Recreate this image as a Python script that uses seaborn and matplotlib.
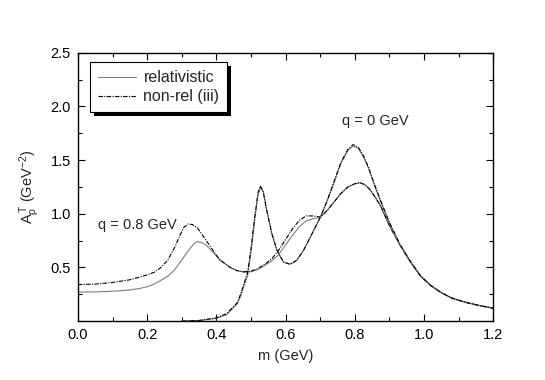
import numpy as np
import pandas as pd
import matplotlib
matplotlib.use("Agg")
import matplotlib.pyplot as plt
import seaborn as sns
from matplotlib.ticker import MultipleLocator
from matplotlib.patches import Rectangle

# q = 0.8 GeV, relativistic
m_q08_rel = [0.00, 0.05, 0.10, 0.15, 0.18, 0.20, 0.22, 0.24, 0.26, 0.28, 0.30,
             0.32, 0.335, 0.345, 0.355, 0.37, 0.385, 0.41, 0.44, 0.46, 0.48,
             0.50, 0.52, 0.54, 0.56, 0.58, 0.60, 0.62, 0.64, 0.66, 0.68, 0.70,
             0.72, 0.74, 0.76, 0.78, 0.80, 0.815, 0.83, 0.845, 0.86, 0.875,
             0.90, 0.93, 0.96, 0.99, 1.02, 1.05, 1.08, 1.12, 1.16, 1.20]
a_q08_rel = [0.27, 0.272, 0.278, 0.29, 0.305, 0.32, 0.345, 0.38, 0.42, 0.48, 0.57,
             0.66, 0.72, 0.74, 0.735, 0.71, 0.66, 0.57, 0.50, 0.47, 0.455,
             0.46, 0.48, 0.52, 0.56, 0.62, 0.71, 0.80, 0.88, 0.935, 0.955, 0.965,
             1.03, 1.11, 1.19, 1.25, 1.28, 1.29, 1.27, 1.22, 1.15, 1.07,
             0.89, 0.71, 0.555, 0.42, 0.33, 0.265, 0.215, 0.175, 0.145, 0.12]

# q = 0.8 GeV, non-relativistic (iii)
m_q08_nr = [0.00, 0.05, 0.10, 0.15, 0.20, 0.22, 0.24, 0.26, 0.28, 0.295, 0.305,
            0.318, 0.33, 0.345, 0.36, 0.375, 0.39, 0.41, 0.44, 0.46, 0.48,
            0.50, 0.52, 0.54, 0.56, 0.58, 0.60, 0.62, 0.64, 0.66, 0.68, 0.70,
            0.72, 0.74, 0.76, 0.78, 0.80, 0.815, 0.83, 0.845, 0.86, 0.875,
            0.90, 0.93, 0.96, 0.99, 1.02, 1.05, 1.08, 1.12, 1.16, 1.20]
a_q08_nr = [0.34, 0.345, 0.36, 0.385, 0.43, 0.455, 0.50, 0.57, 0.69, 0.80, 0.87,
            0.905, 0.90, 0.87, 0.80, 0.73, 0.66, 0.57, 0.50, 0.47, 0.46,
            0.465, 0.49, 0.53, 0.58, 0.66, 0.76, 0.86, 0.94, 0.98, 0.98, 0.97,
            1.03, 1.11, 1.19, 1.25, 1.28, 1.29, 1.27, 1.22, 1.15, 1.07,
            0.89, 0.71, 0.555, 0.42, 0.33, 0.265, 0.215, 0.175, 0.145, 0.12]

# q = 0 GeV, relativistic
m_q0_rel = [0.30, 0.35, 0.40, 0.43, 0.46, 0.47, 0.48, 0.49, 0.50, 0.51, 0.52,
            0.528, 0.536, 0.546, 0.56, 0.575, 0.594, 0.613, 0.632, 0.652,
            0.671, 0.70, 0.72, 0.74, 0.76, 0.78, 0.795, 0.81, 0.825, 0.84,
            0.855, 0.875, 0.90, 0.93, 0.96, 0.99, 1.02, 1.05, 1.08, 1.12,
            1.16, 1.20]
a_q0_rel = [0.00, 0.005, 0.025, 0.06, 0.16, 0.23, 0.33, 0.42, 0.64, 0.92, 1.17,
            1.25, 1.20, 1.03, 0.815, 0.66, 0.55, 0.53, 0.565, 0.66,
            0.78, 0.965, 1.12, 1.29, 1.47, 1.59, 1.63, 1.61, 1.53, 1.42,
            1.28, 1.11, 0.91, 0.71, 0.555, 0.42, 0.33, 0.265, 0.215, 0.175,
            0.145, 0.12]

# q = 0 GeV, non-relativistic (iii)
m_q0_nr = [0.30, 0.35, 0.40, 0.43, 0.46, 0.47, 0.48, 0.49, 0.50, 0.51, 0.52,
           0.527, 0.535, 0.545, 0.56, 0.575, 0.594, 0.613, 0.632, 0.652,
           0.671, 0.70, 0.72, 0.74, 0.76, 0.78, 0.795, 0.81, 0.825, 0.84,
           0.855, 0.875, 0.90, 0.93, 0.96, 0.99, 1.02, 1.05, 1.08, 1.12,
           1.16, 1.20]
a_q0_nr = [0.00, 0.006, 0.03, 0.07, 0.17, 0.25, 0.35, 0.45, 0.67, 0.95, 1.19,
           1.26, 1.21, 1.04, 0.82, 0.66, 0.55, 0.53, 0.565, 0.66,
           0.78, 0.965, 1.12, 1.30, 1.48, 1.60, 1.645, 1.62, 1.54, 1.43,
           1.29, 1.12, 0.92, 0.72, 0.56, 0.42, 0.33, 0.265, 0.215, 0.175,
           0.145, 0.12]

sns.set_theme(style="ticks")
plt.rcParams["font.family"] = ["Liberation Sans", "DejaVu Sans"]
plt.rcParams["mathtext.fontset"] = "custom"
plt.rcParams["mathtext.rm"] = "Liberation Sans"
plt.rcParams["mathtext.it"] = "Liberation Sans"
plt.rcParams["mathtext.bf"] = "Liberation Sans"

FS = 10.5

fig = plt.figure(figsize=(5.45, 3.80), dpi=100)
ax = fig.add_axes([0.143, 0.155, 0.762, 0.706])

rel_style = dict(color="#7f7f7f", linewidth=0.8)
nr_style = dict(color="black", linewidth=0.8, linestyle=(0, (4, 1.2, 1, 1.2)))

curves = [
    (m_q08_rel, a_q08_rel, rel_style, "relativistic"),
    (m_q08_nr, a_q08_nr, nr_style, "non-rel (iii)"),
    (m_q0_rel, a_q0_rel, rel_style, None),
    (m_q0_nr, a_q0_nr, nr_style, None),
]
for mm, aa, style, lab in curves:
    df = pd.DataFrame({"m": mm, "A": aa})
    sns.lineplot(data=df, x="m", y="A", ax=ax, label=lab, legend=False, **style)

ax.set_xlim(0.0, 1.2)
ax.set_ylim(0.0, 2.5)
ax.set_yticks([0.5, 1.0, 1.5, 2.0, 2.5])
ax.xaxis.set_major_locator(MultipleLocator(0.2))
ax.xaxis.set_minor_locator(MultipleLocator(0.1))
ax.yaxis.set_minor_locator(MultipleLocator(0.25))
ax.tick_params(which="both", direction="in", top=True, right=True,
               labelsize=FS, width=0.8, colors="black", pad=5)
ax.tick_params(which="major", length=5)
ax.tick_params(which="minor", length=3)
for sp in ax.spines.values():
    sp.set_linewidth(1.0)
    sp.set_color("black")

ax.set_xlabel("m (GeV)", fontsize=FS, labelpad=5)
ax.set_ylabel(r"A$_\rho^{\,T}$ (GeV$^{-2}$)", fontsize=FS, labelpad=6)

ax.text(0.058, 0.90, "q = 0.8 GeV", fontsize=FS, va="center", ha="left")
ax.text(0.762, 1.86, "q = 0 GeV", fontsize=FS, va="center", ha="left")

handles = ax.get_lines()[:2]
leg = ax.legend(handles, ["relativistic", "non-rel (iii)"], loc="upper left",
                bbox_to_anchor=(0.029, 0.965), fontsize=11.5, fancybox=False,
                frameon=True, edgecolor="black", framealpha=1,
                handlelength=2.4, handletextpad=0.45, borderpad=0.5,
                labelspacing=0.25, borderaxespad=0)
leg.get_frame().set_linewidth(0.8)

# solid black drop shadow behind the legend box
fig.canvas.draw()
bb = leg.get_frame().get_window_extent().transformed(fig.transFigure.inverted())
dx, dy = 4 / 545, 4 / 380
shadow = Rectangle((bb.x0 + dx, bb.y0 - dy), bb.width, bb.height,
                   transform=fig.transFigure, facecolor="black",
                   edgecolor="none", zorder=4)
ax.add_artist(shadow)
leg.set_zorder(6)

fig.savefig("out.png", dpi=100)
